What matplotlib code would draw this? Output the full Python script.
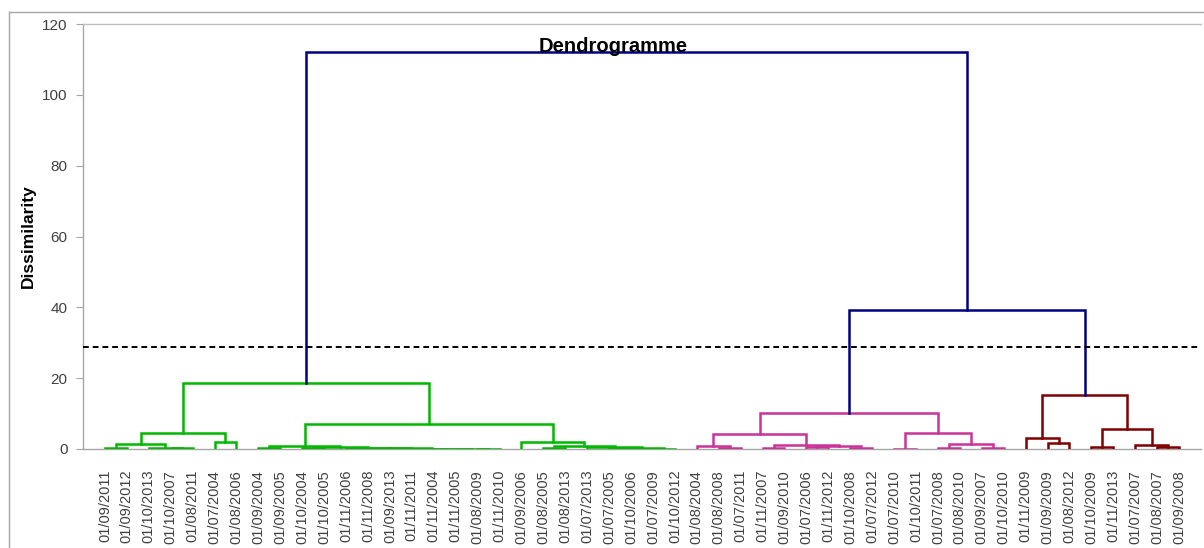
import matplotlib
matplotlib.use("Agg")
import matplotlib.pyplot as plt
from matplotlib.lines import Line2D

plt.rcParams['font.family'] = ['Liberation Sans', 'DejaVu Sans']

# ---- data ----
leaf_labels = [
    "01/09/2011", "01/09/2012", "01/10/2013", "01/10/2007", "01/08/2011", "01/07/2004",
    "01/08/2006", "01/09/2004", "01/09/2005", "01/10/2004", "01/10/2005", "01/11/2006",
    "01/11/2008", "01/09/2013", "01/11/2011", "01/11/2004", "01/11/2005", "01/08/2009",
    "01/11/2010", "01/09/2006", "01/08/2005", "01/08/2013", "01/07/2013", "01/07/2005",
    "01/10/2006", "01/07/2009", "01/10/2012", "01/08/2004", "01/08/2008", "01/07/2011",
    "01/11/2007", "01/09/2010", "01/07/2006", "01/11/2012", "01/10/2008", "01/07/2012",
    "01/07/2010", "01/10/2011", "01/07/2008", "01/08/2010", "01/09/2007", "01/10/2010",
    "01/11/2009", "01/09/2009", "01/08/2012", "01/10/2009", "01/11/2013", "01/07/2007",
    "01/08/2007", "01/09/2008",
]
# merges: node id = n_leaves + index
merge_left = [0, 3, 2, 50, 5, 53,
              7, 9, 17, 16, 15, 14, 13, 12, 11, 57, 56,
              20, 23, 25, 68, 22, 67, 19, 66, 55,
              28, 27, 30, 32, 34, 79, 78, 77, 36, 38, 40, 85, 84, 83,
              43, 42, 45, 48, 47, 92, 91,
              89, 75]
merge_right = [1, 4, 51, 52, 6, 54,
               8, 10, 18, 58, 59, 60, 61, 62, 63, 64, 65,
               21, 24, 26, 69, 70, 71, 72, 73, 74,
               29, 76, 31, 33, 35, 80, 81, 82, 37, 39, 41, 86, 87, 88,
               44, 90, 46, 49, 93, 94, 95,
               96, 97]
merge_height = [0.2, 0.2, 0.35, 1.4, 2.1, 4.5,
                0.3, 0.2, 0.05, 0.08, 0.1, 0.12, 0.15, 0.2, 0.3, 0.5, 0.8,
                0.4, 0.15, 0.1, 0.2, 0.5, 0.85, 2.0, 7.0, 18.7,
                0.3, 0.8, 0.3, 0.5, 0.2, 0.8, 1.2, 4.2, 0.1, 0.2, 0.15, 1.5, 4.6, 10.3,
                1.8, 3.1, 0.7, 0.5, 1.1, 5.7, 15.3,
                39.3, 112.0]
merge_group = (["green"] * 26 + ["pink"] * 14 + ["red"] * 7 + ["blue"] * 2)
cut_level = 28.8
y_ticks = [0, 20, 40, 60, 80, 100, 120]

group_colors = {"green": "#00B800", "pink": "#CC3399", "red": "#7F0000", "blue": "#000080"}

# ---- figure ----
W, H = 1204, 548
fig = plt.figure(figsize=(W / 100, H / 100), dpi=100)
ax = fig.add_axes([83 / W, 1 - 449 / H, (1201 - 83) / W, (449 - 24) / H])

n = len(leaf_labels)
pos = {i: float(i) for i in range(n)}
hgt = {i: 0.0 for i in range(n)}
for k, (a, b, h) in enumerate(zip(merge_left, merge_right, merge_height)):
    node = n + k
    xa, xb = pos[a], pos[b]
    c = group_colors[merge_group[k]]
    ax.plot([xa, xa, xb, xb], [hgt[a], h, h, hgt[b]], color=c, lw=1.8,
            solid_joinstyle='miter', zorder=3)
    pos[node] = (xa + xb) / 2
    hgt[node] = h

ax.axhline(cut_level, color='black', lw=1.4, ls=(0, (3, 2)), zorder=4)

ax.set_xlim(-1.0, 50.0)
ax.set_ylim(0, 120)
ax.set_yticks(y_ticks)
ax.set_yticklabels([str(v) for v in y_ticks], fontsize=11, color='#404040')
ax.set_xticks(range(n))
ax.set_xticklabels(leaf_labels, rotation=90, fontsize=10.5, color='#404040',
                   va='top', ha='center')
ax.tick_params(axis='x', length=0, pad=15)
ax.tick_params(axis='y', length=5, width=0.8, color='#A6A6A6', pad=6)

for s in ['left', 'bottom', 'top']:
    ax.spines[s].set_color('#A6A6A6')
    ax.spines[s].set_linewidth(1.0)
ax.spines['top'].set_color('#BFBFBF')
ax.spines['right'].set_visible(False)
ax.spines['bottom'].set_zorder(1)

fig.text(613 / W, 1 - 46 / H, "Dendrogramme", fontsize=14.5, fontweight='bold',
         ha='center', va='center', color='black')
fig.text(28 / W, 1 - 236 / H, "Dissimilarity", fontsize=12.5, fontweight='bold',
         rotation=90, ha='center', va='center', color='black')

# outer chart border
fig.add_artist(Line2D([9 / W, 9 / W], [0, 1 - 12 / H], transform=fig.transFigure,
                      color='#A6A6A6', lw=1.0))
fig.add_artist(Line2D([9 / W, 1], [1 - 12 / H, 1 - 12 / H], transform=fig.transFigure,
                      color='#A6A6A6', lw=1.0))

fig.savefig("out.png", dpi=100)
